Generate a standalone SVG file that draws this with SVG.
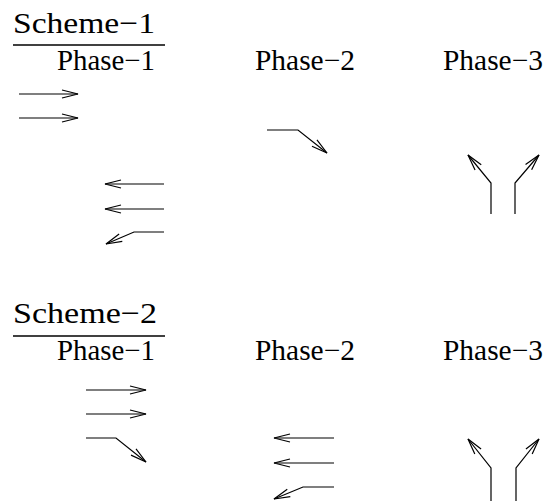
<svg xmlns="http://www.w3.org/2000/svg" width="545" height="501" viewBox="0 0 545 501">
<style>
.t{font-family:"Liberation Serif","Times New Roman",serif;fill:#000}
.s{font-size:30px}
.p{font-size:29px}
.c{fill:none;stroke:#000;stroke-width:1.2}
.r{stroke:#000;stroke-width:1.4}
</style>
<defs>
<marker id="ah" markerUnits="userSpaceOnUse" markerWidth="20" markerHeight="12" refX="0" refY="0" viewBox="-17 -6 19 12" orient="auto" overflow="visible">
<path d="M-16,-4 L0,0 L-16,4" fill="none" stroke="#000" stroke-width="1.2"/>
</marker>
</defs>
<rect width="545" height="501" fill="#fff"/>
<g id="scheme1-title">
<text class="t s" x="13" y="33" textLength="142" lengthAdjust="spacingAndGlyphs">Scheme−1</text>
<line class="r" x1="13" y1="45" x2="165" y2="45"/>
</g>
<g id="s1-phase1-label"><text class="t p" x="57" y="70" textLength="98" lengthAdjust="spacingAndGlyphs">Phase−1</text></g>
<g id="s1-phase2-label"><text class="t p" x="255" y="70" textLength="100" lengthAdjust="spacingAndGlyphs">Phase−2</text></g>
<g id="s1-phase3-label"><text class="t p" x="443" y="70" textLength="100" lengthAdjust="spacingAndGlyphs">Phase−3</text></g>
<g id="scheme2-title">
<text class="t s" x="13" y="323" textLength="144" lengthAdjust="spacingAndGlyphs">Scheme−2</text>
<line class="r" x1="13" y1="336" x2="165" y2="336"/>
</g>
<g id="s2-phase1-label"><text class="t p" x="57" y="360" textLength="98" lengthAdjust="spacingAndGlyphs">Phase−1</text></g>
<g id="s2-phase2-label"><text class="t p" x="255" y="360" textLength="100" lengthAdjust="spacingAndGlyphs">Phase−2</text></g>
<g id="s2-phase3-label"><text class="t p" x="443" y="360" textLength="100" lengthAdjust="spacingAndGlyphs">Phase−3</text></g>
<g id="connectors">
<path class="c" d="M19,94 H78" marker-end="url(#ah)"/>
<path class="c" d="M19,118 H78" marker-end="url(#ah)"/>
<path class="c" d="M164,184 H105" marker-end="url(#ah)"/>
<path class="c" d="M164,209 H105" marker-end="url(#ah)"/>
<path class="c" d="M164,232 H134 L106,244" marker-end="url(#ah)"/>
<path class="c" d="M267,130 H298 L327,153" marker-end="url(#ah)"/>
<path class="c" d="M491,214 V183 L468,155" marker-end="url(#ah)"/>
<path class="c" d="M515,214 V183 L539,155" marker-end="url(#ah)"/>
<path class="c" d="M86,390 H146" marker-end="url(#ah)"/>
<path class="c" d="M86,414 H146" marker-end="url(#ah)"/>
<path class="c" d="M86,438 H116 L146,462" marker-end="url(#ah)"/>
<path class="c" d="M334,438 H274" marker-end="url(#ah)"/>
<path class="c" d="M334,463 H274" marker-end="url(#ah)"/>
<path class="c" d="M334,487 H303 L274,499" marker-end="url(#ah)"/>
<path class="c" d="M491,501 V468 L468,439" marker-end="url(#ah)"/>
<path class="c" d="M516,501 V468 L539,439" marker-end="url(#ah)"/>
</g>
</svg>
